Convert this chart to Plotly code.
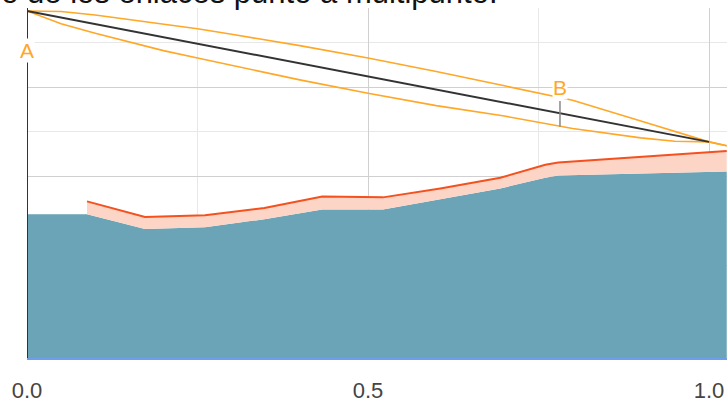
import plotly.graph_objects as go

# ---- data (distance fraction along link, height units) ----
terrain_x = [0.0, 0.088, 0.173, 0.261, 0.348, 0.433, 0.522, 0.606, 0.694, 0.76, 0.779, 1.026]
terrain_y = [32.2, 32.2, 28.9, 29.3, 31.1, 33.3, 33.3, 35.6, 38.0, 40.4, 40.9, 41.8]

clutter_x = [0.088, 0.173, 0.261, 0.348, 0.433, 0.522, 0.606, 0.694, 0.76, 0.779, 1.026]
clutter_y = [35.1, 31.6, 32.0, 33.6, 36.2, 36.0, 38.0, 40.4, 43.3, 43.8, 46.4]

los_x = [0.0, 1.0]
los_y = [77.78, 48.44]

fresnel_x = [0.0, 0.05, 0.1, 0.2, 0.25, 0.3, 0.4, 0.5, 0.6, 0.7, 0.8, 0.9, 0.95, 1.0, 1.026]
fresnel_upper = [77.78, 77.67, 76.89, 74.89, 73.78, 72.56, 70.0, 67.22, 64.22, 61.0, 57.78, 53.11, 50.78, 48.44, 47.56]
fresnel_lower = [77.78, 74.89, 72.78, 68.89, 67.22, 65.56, 62.33, 59.33, 56.56, 54.22, 51.44, 49.33, 48.56, 48.44, 47.56]

site_a = {"label": "A", "x": 0.0, "y": 68.9}
site_b = {"label": "B", "x": 0.7815, "y": 60.6, "tick_y": [57.6, 51.8]}
mast_x = [0.0, 0.0]
mast_y = [0.0, 78.44]

title_text = "Perfil del terreno de los enlaces punto a multipunto."

TEAL = "#6aa4b6"
PINK = "#fcd5c7"
RED = "#f4511e"
ORANGE = "#ffa726"

fig = go.Figure()
fig.add_trace(go.Scatter(x=terrain_x, y=terrain_y, mode="lines", line=dict(width=0, color=TEAL),
                         fill="tozeroy", fillcolor=TEAL, hoverinfo="skip"))
fig.add_trace(go.Scatter(x=clutter_x, y=terrain_y[1:], mode="lines", line=dict(width=0, color=PINK),
                         hoverinfo="skip"))
fig.add_trace(go.Scatter(x=clutter_x, y=clutter_y, mode="lines", line=dict(width=2, color=RED),
                         fill="tonexty", fillcolor=PINK, hoverinfo="skip"))
fig.add_trace(go.Scatter(x=fresnel_x, y=fresnel_upper, mode="lines", line=dict(width=1.6, color=ORANGE)))
fig.add_trace(go.Scatter(x=fresnel_x, y=fresnel_lower, mode="lines", line=dict(width=1.6, color=ORANGE)))
fig.add_trace(go.Scatter(x=los_x, y=los_y, mode="lines", line=dict(width=2, color="#333333")))
fig.add_trace(go.Scatter(x=[site_b["x"], site_b["x"]], y=site_b["tick_y"], mode="lines",
                         line=dict(width=1.5, color="#888888")))
fig.add_trace(go.Scatter(x=mast_x, y=mast_y, mode="lines", line=dict(width=2, color="#333333")))

for s in (site_a, site_b):
    fig.add_annotation(x=s["x"], y=s["y"], text=s["label"], showarrow=False,
                       font=dict(family="Liberation Sans, Arial", size=21, color=ORANGE),
                       bgcolor="white", borderpad=0)

fig.add_annotation(xref="paper", yref="paper", x=0.676, y=1, xanchor="right", yanchor="bottom",
                   text=title_text, showarrow=False, yshift=-4,
                   font=dict(family="Liberation Sans, Arial", size=31, color="#111111"))

fig.update_layout(
    width=727, height=403,
    margin=dict(l=27, r=0, t=8, b=42),
    paper_bgcolor="white", plot_bgcolor="white",
    showlegend=False,
    xaxis=dict(range=[0, 1.0264], tickvals=[0, 0.5, 1.0], ticktext=["0.0", "0.5", "1.0"],
               showgrid=True, gridcolor="#d0d0d0", gridwidth=1, zeroline=False,
               minor=dict(dtick=0.25, tick0=0, showgrid=True, gridcolor="#e8e8e8"),
               showline=True, linecolor="#6d9eeb", linewidth=2,
               tickfont=dict(family="Liberation Sans, Arial", size=22, color="#444444"),
               ticks="", ticklabelstandoff=12),
    yaxis=dict(range=[0, 78.44], tick0=0.67, dtick=20, showticklabels=False,
               showgrid=True, gridcolor="#d0d0d0", zeroline=False,
               minor=dict(dtick=10, tick0=0.67, showgrid=True, gridcolor="#e8e8e8")),
)

fig.write_html("out.html", config={"displayModeBar": False},
               post_script="document.body.style.margin='0';document.body.style.overflow='hidden';")
